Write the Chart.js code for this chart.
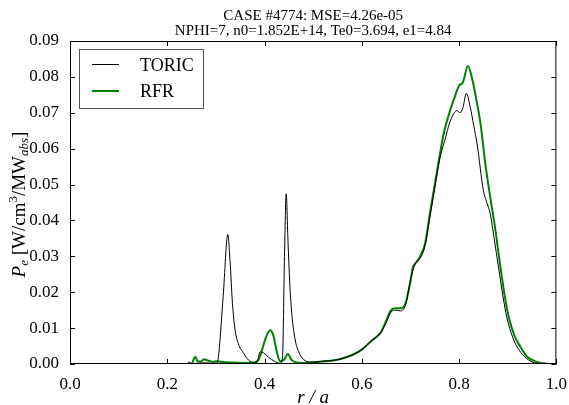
<!DOCTYPE html>
<html>
<head>
<meta charset="utf-8">
<script src="https://cdn.jsdelivr.net/npm/chart.js@4"></script>
<style>
  html, body { margin: 0; padding: 0; background: #fff; }
  #wrap { width: 569px; height: 405px; }
</style>
</head>
<body>
<div id="wrap"><canvas id="myChart" width="569" height="405"></canvas></div>
<script>
// values
const toricR = [0, 0.2, 0.24, 0.245, 0.25, 0.26, 0.28, 0.30, 0.303, 0.306, 0.315, 0.3245, 0.329, 0.334, 0.3395, 0.346, 0.357, 0.367, 0.381, 0.386, 0.391, 0.398, 0.408, 0.42, 0.432, 0.437, 0.441, 0.4445, 0.448, 0.452, 0.456, 0.463, 0.47, 0.477, 0.49, 0.5, 0.52, 0.55, 0.58, 0.6, 0.62, 0.63, 0.64, 0.65, 0.66, 0.67, 0.679, 0.69, 0.70, 0.71, 0.72, 0.73, 0.74, 0.75, 0.76, 0.772, 0.78, 0.79, 0.796, 0.802, 0.808, 0.815, 0.823, 0.83, 0.837, 0.85, 0.857, 0.864, 0.872, 0.881, 0.89, 0.898, 0.91, 0.919, 0.935, 0.95, 0.97, 1.0];
const toricP = [0, 0, 0, 0.0006, 0, 0.0002, 0.0003, 0.0002, 0.0005, 0.003, 0.019, 0.0361, 0.0289, 0.0169, 0.0094, 0.0057, 0.003, 0.0011, 0.0002, 0.0012, 0.0034, 0.0031, 0.0019, 0.0008, 0.0002, 0.002, 0.03, 0.0474, 0.035, 0.022, 0.014, 0.0067, 0.0035, 0.0017, 0.0006, 0.0005, 0.0008, 0.0012, 0.0025, 0.004, 0.0065, 0.0075, 0.009, 0.0115, 0.0145, 0.015, 0.0148, 0.0165, 0.0235, 0.028, 0.0295, 0.033, 0.041, 0.049, 0.057, 0.063, 0.067, 0.0700, 0.0706, 0.070, 0.0715, 0.0754, 0.0715, 0.0665, 0.0613, 0.0483, 0.045, 0.0419, 0.035, 0.027, 0.019, 0.0131, 0.0075, 0.0048, 0.002, 0.0006, 0.0001, 0];

const rfrR = [0, 0.24, 0.25, 0.255, 0.258, 0.262, 0.268, 0.276, 0.285, 0.295, 0.30, 0.31, 0.33, 0.36, 0.38, 0.387, 0.395, 0.403, 0.4115, 0.418, 0.425, 0.432, 0.44, 0.448, 0.455, 0.465, 0.48, 0.5, 0.55, 0.58, 0.6, 0.62, 0.63, 0.64, 0.65, 0.66, 0.67, 0.68, 0.69, 0.70, 0.705, 0.71, 0.72, 0.73, 0.74, 0.75, 0.76, 0.768, 0.78, 0.79, 0.80, 0.808, 0.818, 0.826, 0.835, 0.844, 0.854, 0.864, 0.875, 0.885, 0.895, 0.902, 0.915, 0.926, 0.94, 0.96, 0.98, 1.0];
const rfrP = [0, 0, 0.0001, 0.0015, 0.002, 0.0008, 0.0007, 0.0013, 0.0009, 0.0006, 0.0008, 0.0006, 0.0004, 0.0003, 0.0005, 0.001, 0.004, 0.0075, 0.0094, 0.008, 0.0035, 0.0008, 0.0012, 0.0028, 0.0012, 0.0004, 0.0003, 0.0005, 0.0012, 0.0025, 0.004, 0.0065, 0.0075, 0.009, 0.012, 0.015, 0.0155, 0.0155, 0.017, 0.023, 0.027, 0.028, 0.030, 0.0335, 0.042, 0.050, 0.058, 0.064, 0.070, 0.074, 0.0775, 0.0785, 0.083, 0.080, 0.074, 0.067, 0.0557, 0.0465, 0.037, 0.027, 0.018, 0.0131, 0.0075, 0.0048, 0.002, 0.0006, 0.0001, 0];

const xTicks = [0, 0.2, 0.4, 0.6, 0.8, 1.0];
const yTicks = [0, 0.01, 0.02, 0.03, 0.04, 0.05, 0.06, 0.07, 0.08, 0.09];
const titleLines = ["CASE #4774: MSE=4.26e-05", "NPHI=7, n0=1.852E+14, Te0=3.694, e1=4.84"];
const seriesNames = ["TORIC", "RFR"];
const seriesColors = ["#000000", "#008000"];

const serif = "'Liberation Serif', 'DejaVu Serif', serif";

function pts(xs, ys) {
  return xs.map((x, i) => ({ x: x, y: ys[i] }));
}

// inward ticks on all four sides, titles, legend box, axis labels
const decor = {
  id: "decor",
  afterDraw(chart) {
    const ctx = chart.ctx;
    const a = chart.chartArea;
    const xs = chart.scales.x, ys = chart.scales.y;
    ctx.save();
    ctx.strokeStyle = "#000";
    ctx.lineWidth = 1;
    ctx.strokeRect(a.left + 0.5, a.top + 0.5, a.right - a.left - 1, a.bottom - a.top - 1);
    ctx.beginPath();
    xTicks.forEach(v => {
      const px = Math.round(xs.getPixelForValue(v)) + 0.5;
      ctx.moveTo(px, a.bottom); ctx.lineTo(px, a.bottom - 5);
      ctx.moveTo(px, a.top); ctx.lineTo(px, a.top + 5);
    });
    yTicks.forEach(v => {
      const py = Math.round(ys.getPixelForValue(v)) + 0.5;
      ctx.moveTo(a.left, py); ctx.lineTo(a.left + 5, py);
      ctx.moveTo(a.right, py); ctx.lineTo(a.right - 5, py);
    });
    ctx.stroke();

    // title
    ctx.fillStyle = "#000";
    ctx.textAlign = "center";
    ctx.textBaseline = "alphabetic";
    ctx.font = "15px " + serif;
    ctx.fillText(titleLines[0], (a.left + a.right) / 2, 20);
    ctx.fillText(titleLines[1], (a.left + a.right) / 2, 35);

    // x label
    ctx.font = "italic 19px " + serif;
    ctx.fillText("r / a", (a.left + a.right) / 2, 403);

    // y label  P_e [W/cm^3/MW_abs]
    ctx.save();
    ctx.translate(25, (a.top + a.bottom) / 2 + 2);
    ctx.rotate(-Math.PI / 2);
    const parts = [
      { t: "P", f: "italic 19px " + serif, dy: 0 },
      { t: "e", f: "italic 13px " + serif, dy: 3 },
      { t: " [W/cm", f: "19px " + serif, dy: 0 },
      { t: "3", f: "13px " + serif, dy: -8 },
      { t: "/MW", f: "19px " + serif, dy: 0 },
      { t: "abs", f: "italic 13px " + serif, dy: 3 },
      { t: "]", f: "19px " + serif, dy: 0 }
    ];
    let total = 0;
    parts.forEach(p => { ctx.font = p.f; total += ctx.measureText(p.t).width; });
    let cx = -total / 2;
    ctx.textAlign = "left";
    parts.forEach(p => {
      ctx.font = p.f;
      ctx.fillText(p.t, cx, p.dy);
      cx += ctx.measureText(p.t).width;
    });
    ctx.restore();

    // legend
    ctx.fillStyle = "#fff";
    ctx.fillRect(79, 49, 124, 59);
    ctx.strokeStyle = "#555";
    ctx.lineWidth = 1;
    ctx.strokeRect(79.5, 49.5, 124, 59);
    ctx.lineWidth = 1;
    ctx.strokeStyle = seriesColors[0];
    ctx.beginPath(); ctx.moveTo(92, 64.5); ctx.lineTo(119, 64.5); ctx.stroke();
    ctx.lineWidth = 2;
    ctx.strokeStyle = seriesColors[1];
    ctx.beginPath(); ctx.moveTo(92, 91); ctx.lineTo(119, 91); ctx.stroke();
    ctx.fillStyle = "#000";
    ctx.font = "18px " + serif;
    ctx.textAlign = "left";
    ctx.fillText(seriesNames[0], 140, 70.5);
    ctx.fillText(seriesNames[1], 140, 97);
    ctx.restore();
  }
};

new Chart("myChart", {
  type: "line",
  data: {
    datasets: [
      {
        label: seriesNames[0],
        data: pts(toricR, toricP),
        borderColor: seriesColors[0],
        borderWidth: 1,
        pointRadius: 0,
        cubicInterpolationMode: "monotone",
        fill: false
      },
      {
        label: seriesNames[1],
        data: pts(rfrR, rfrP),
        borderColor: seriesColors[1],
        borderWidth: 2,
        pointRadius: 0,
        cubicInterpolationMode: "monotone",
        fill: false
      }
    ]
  },
  plugins: [decor],
  options: {
    responsive: false,
    animation: false,
    layout: { padding: { left: 0, right: 12, top: 41, bottom: 0 } },
    scales: {
      x: {
        type: "linear",
        min: 0,
        max: 1,
        afterBuildTicks: (s) => { s.ticks = xTicks.map(v => ({ value: v })); },
        afterFit: (s) => { s.height = 41; },
        grid: { display: false },
        border: { display: false },
        ticks: {
          color: "#000",
          padding: 2,
          font: { family: serif, size: 17 },
          callback: (v) => v.toFixed(1),
          maxRotation: 0
        }
      },
      y: {
        min: 0,
        max: 0.09,
        afterBuildTicks: (s) => { s.ticks = yTicks.map(v => ({ value: v })); },
        afterFit: (s) => { s.width = 70; },
        grid: { display: false },
        border: { display: false },
        ticks: {
          color: "#000",
          padding: 3,
          font: { family: serif, size: 17 },
          callback: (v) => v.toFixed(2)
        }
      }
    },
    plugins: {
      legend: { display: false },
      title: { display: false },
      tooltip: { enabled: false }
    }
  }
});
</script>
</body>
</html>
